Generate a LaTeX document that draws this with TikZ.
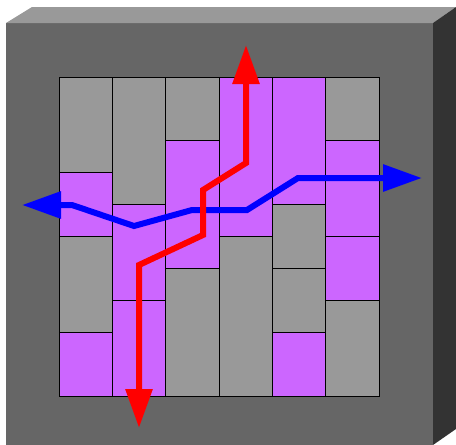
\documentclass[tikz,border=0pt]{standalone}
\usepackage{tikz}
\usetikzlibrary{arrows.meta}

\definecolor{frontgray}{HTML}{666666}
\definecolor{topgray}{HTML}{999999}
\definecolor{sidegray}{HTML}{333333}
\definecolor{cellgray}{HTML}{999999}
\definecolor{cellpurple}{HTML}{CC66FF}

\begin{document}
\begin{tikzpicture}[x=1pt, y=-1pt,
    gcell/.style={fill=cellgray, draw=black, line width=0.8pt},
    pcell/.style={fill=cellpurple, draw=black, line width=0.8pt},
    flow/.style={line width=6pt, {Triangle[length=39pt, width=26pt]}-{Triangle[length=39pt, width=26pt]}}]
    \useasboundingbox (0,0) rectangle (456,445);

    % the block
    \fill[frontgray] (6,23) rectangle (433,445);
    \fill[topgray] (6,23) -- (32,7) -- (456,7) -- (433,23) -- cycle;
    \fill[sidegray] (433,23) -- (456,7) -- (456,429) -- (433,445) -- cycle;

    % cells, column/top/bottom/style
    \begin{scope}[shift={(59,77)}, x=53.333pt, y=-31.9pt]
        \foreach \c/\a/\b/\s in {0/0/3/gcell, 0/3/5/pcell, 0/5/8/gcell, 0/8/10/pcell,
                                 1/0/4/gcell, 1/4/7/pcell, 1/7/10/pcell,
                                 2/0/2/gcell, 2/2/6/pcell, 2/6/10/gcell,
                                 3/0/5/pcell, 3/5/10/gcell,
                                 4/0/4/pcell, 4/4/6/gcell, 4/6/8/gcell, 4/8/10/pcell,
                                 5/0/2/gcell, 5/2/5/pcell, 5/5/7/pcell, 5/7/10/gcell}
            \draw[\s] (\c,\a) rectangle (\c+1,\b);
    \end{scope}

    % blue path
    \coordinate (b0) at (22,205);
    \coordinate (b1) at (72,205);
    \coordinate (b2) at (134,226);
    \coordinate (b3) at (192,210);
    \coordinate (b4) at (247,210);
    \coordinate (b5) at (298,178);
    \coordinate (b6) at (422,178);
    \draw[flow, blue] (b0) -- (b1) -- (b2) -- (b3) -- (b4) -- (b5) -- (b6);

    % red path
    \coordinate (r0) at (139,428);
    \coordinate (r1) at (139,265);
    \coordinate (r2) at (203,235);
    \coordinate (r3) at (203,190);
    \coordinate (r4) at (246,163);
    \coordinate (r5) at (246,45);
    \draw[flow, red] (r0) -- (r1) -- (r2) -- (r3) -- (r4) -- (r5);
\end{tikzpicture}
\end{document}
